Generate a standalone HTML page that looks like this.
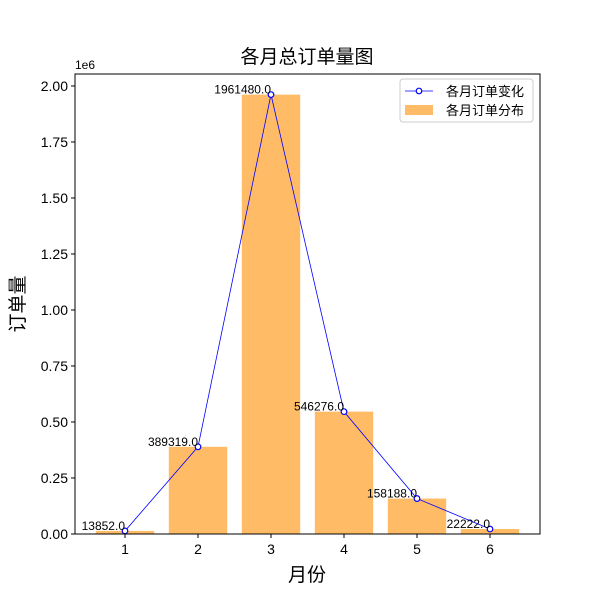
<!DOCTYPE html>
<html><head><meta charset="utf-8"><style>
body{margin:0;background:#fff}
svg text{font-family:"Liberation Sans","Noto Sans CJK SC",sans-serif}
</style></head><body>
<svg id="c" width="600" height="600" xmlns="http://www.w3.org/2000/svg"></svg>
<script>
const months=[1,2,3,4,5,6];
const orders=[13852,389319,1961480,546276,158188,22222];
const yTicks=[0,0.25,0.5,0.75,1.0,1.25,1.5,1.75,2.0];
const L=75,R=540,T=74,B=534;
const xS=m=>125+(m-1)*73;
const yS=v=>B-v/1e6*224;
const svg=document.getElementById('c');
const NS='http://www.w3.org/2000/svg';
function mk(tag,attrs,txt){const e=document.createElementNS(NS,tag);for(const k in attrs)e.setAttribute(k,attrs[k]);if(txt!==undefined)e.textContent=txt;svg.appendChild(e);return e;}
let e;
months.forEach((m,i)=>{
 e=mk('rect',{x:xS(m)-29.2,y:yS(orders[i]),width:58.4,height:B-yS(orders[i]),fill:'#ffbb66'});
 
 
});
e=mk('polyline',{points:months.map((m,i)=>xS(m)+','+yS(orders[i])).join(' '),fill:'none',stroke:'#0000ff','stroke-width':0.8});


months.forEach((m,i)=>{
 e=mk('circle',{cx:xS(m),cy:yS(orders[i]),r:2.8,fill:'#fff',stroke:'#0000ff','stroke-width':1.2});
 
 
 e=mk('text',{x:xS(m),y:yS(orders[i])-1,'text-anchor':'end','font-size':12},orders[i].toFixed(1));
 
 
});
e=mk('rect',{x:L,y:T,width:R-L,height:B-T,fill:'none',stroke:'#000','stroke-width':1});


yTicks.forEach(v=>{
 const y=yS(v*1e6);
 mk('line',{x1:L-4,x2:L,y1:y,y2:y,stroke:'#000'});
 e=mk('text',{x:L-7,y:y+5,'text-anchor':'end','font-size':14},v.toFixed(2));
 
 
});
months.forEach(m=>{
 mk('line',{x1:xS(m),x2:xS(m),y1:B,y2:B+4,stroke:'#000'});
 e=mk('text',{x:xS(m),y:B+20,'text-anchor':'middle','font-size':14},m);
 
 
});
e=mk('text',{x:75,y:69,'font-size':12},'1e6');


e=mk('text',{x:307,y:63,'text-anchor':'middle','font-size':19},'各月总订单量图');


e=mk('text',{x:307,y:581,'text-anchor':'middle','font-size':19},'月份');


e=mk('text',{x:0,y:0,'text-anchor':'middle','font-size':19,transform:'translate(24,304) rotate(-90)'},'订单量');


e=mk('rect',{x:400,y:79,width:133,height:43,rx:3,fill:'#fff',stroke:'#ccc'});


mk('line',{x1:405,x2:433,y1:91,y2:91,stroke:'#0000ff','stroke-width':0.8});
mk('circle',{cx:419,cy:91,r:2.8,fill:'#fff',stroke:'#0000ff','stroke-width':1.2});
e=mk('text',{x:446,y:96,'font-size':13},'各月订单变化');


mk('rect',{x:405,y:105,width:28,height:10,fill:'#ffbb66'});
e=mk('text',{x:446,y:115,'font-size':13},'各月订单分布');


</script>
</body></html>
